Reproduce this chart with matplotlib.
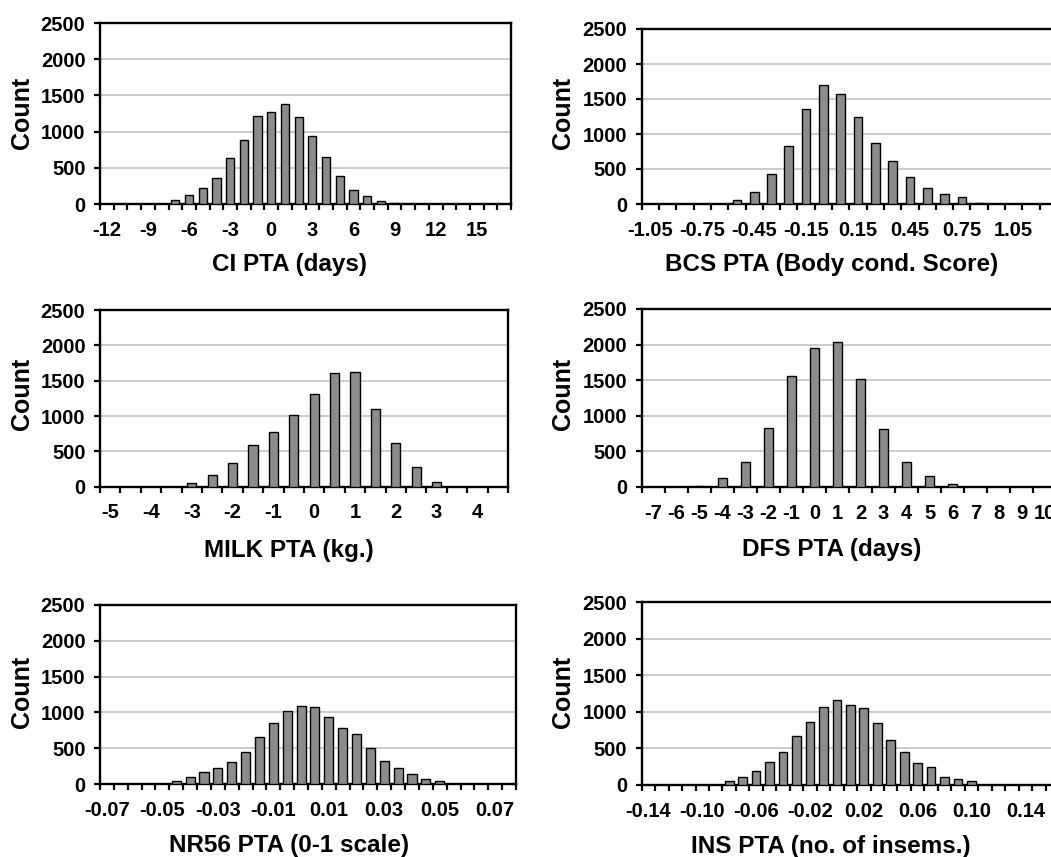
import matplotlib
matplotlib.use('Agg')
import matplotlib.pyplot as plt
import numpy as np

plt.rcParams['font.family'] = ['Liberation Sans', 'DejaVu Sans']
plt.rcParams['font.weight'] = 'bold'

# ---------------- data ----------------
ci_cats = ['-12', '-11', '-10', '-9', '-8', '-7', '-6', '-5', '-4', '-3', '-2', '-1', '0', '1', '2',
           '3', '4', '5', '6', '7', '8', '9', '10', '11', '12', '13', '14', '15', '16', '17']
ci_counts = [0, 0, 0, 0, 0, 50, 125, 215, 355, 640, 885, 1220, 1275, 1375, 1205,
             940, 650, 380, 195, 110, 48, 20, 0, 0, 0, 0, 0, 0, 0, 0]

bcs_cats = ['-1.05', '-0.95', '-0.85', '-0.75', '-0.65', '-0.55', '-0.45', '-0.35', '-0.25', '-0.15',
            '-0.05', '0.05', '0.15', '0.25', '0.35', '0.45', '0.55', '0.65', '0.75', '0.85',
            '0.95', '1.05', '1.15', '1.25']
bcs_counts = [0, 0, 0, 0, 0, 52, 176, 429, 829, 1352, 1705, 1576, 1243, 867, 614, 386, 233, 148,
              100, 19, 0, 0, 0, 0]

milk_cats = ['-5', '-4.5', '-4', '-3.5', '-3', '-2.5', '-2', '-1.5', '-1', '-0.5', '0', '0.5', '1',
             '1.5', '2', '2.5', '3', '3.5', '4', '4.5']
milk_counts = [0, 0, 0, 0, 47, 160, 330, 585, 769, 1014, 1307, 1604, 1618, 1099, 613, 283, 71, 0, 0, 0]

dfs_cats = ['-7', '-6', '-5', '-4', '-3', '-2', '-1', '0', '1', '2', '3', '4', '5', '6', '7', '8', '9', '10']
dfs_counts = [0, 0, 19, 131, 351, 824, 1559, 1957, 2041, 1512, 810, 356, 159, 47, 0, 0, 0, 0]

nr56_cats = ['-0.07', '-0.065', '-0.06', '-0.055', '-0.05', '-0.045', '-0.04', '-0.035', '-0.03', '-0.025',
             '-0.02', '-0.015', '-0.01', '-0.005', '0', '0.005', '0.01', '0.015', '0.02', '0.025',
             '0.03', '0.035', '0.04', '0.045', '0.05', '0.055', '0.06', '0.065', '0.07', '0.075']
nr56_counts = [0, 0, 0, 0, 0, 47, 93, 163, 219, 312, 447, 652, 852, 1015, 1089, 1075, 936, 777, 698, 498,
               317, 219, 144, 74, 47, 0, 0, 0, 0, 0]

ins_cats = ['-0.14', '-0.13', '-0.12', '-0.11', '-0.10', '-0.09', '-0.08', '-0.07', '-0.06', '-0.05',
            '-0.04', '-0.03', '-0.02', '-0.01', '0', '0.01', '0.02', '0.03', '0.04', '0.05', '0.06',
            '0.07', '0.08', '0.09', '0.10', '0.11', '0.12', '0.13', '0.14', '0.15', '0.16']
ins_counts = [0, 0, 0, 0, 0, 0, 55, 109, 192, 319, 456, 666, 862, 1063, 1163, 1095, 1054, 844, 611, 452,
              306, 246, 109, 82, 55, 0, 0, 0, 0, 0, 0]

y_ticks = [0, 500, 1000, 1500, 2000, 2500]

# ---------------- figure ----------------
W, H = 1051, 857
fig = plt.figure(figsize=(W / 100, H / 100), dpi=100)
fig.patch.set_facecolor('white')


def add_panel(cats, counts, step, xlabel, width, box, xl_pos, yl_pos):
    l, t, r, b = box
    ax = fig.add_axes([l / W, 1 - b / H, (r - l) / W, (b - t) / H])
    x = np.arange(len(cats))
    ax.bar(x, counts, width=width, color='#8c8c8c', edgecolor='black', linewidth=1.0, zorder=3)
    ax.set_xlim(-0.5, len(cats) - 0.5)
    ax.set_ylim(0, 2500)
    ax.set_yticks(y_ticks)
    ax.set_yticklabels([str(v) for v in y_ticks])
    ax.yaxis.grid(True, color='#c8c8c8', lw=1.3)
    ax.set_axisbelow(True)
    ax.set_xticks(x[::step])
    ax.set_xticklabels(cats[::step])
    ax.set_xticks(np.arange(len(cats) + 1) - 0.5, minor=True)
    ax.tick_params(axis='x', which='major', length=0, pad=12, labelsize=14.5)
    ax.tick_params(axis='x', which='minor', length=4.5, width=1.6, direction='out')
    ax.tick_params(axis='y', length=4.5, width=1.6, pad=6, labelsize=14.5)
    for s in ax.spines.values():
        s.set_linewidth(1.7)
    ax.set_xlabel(xlabel, fontsize=17.5, fontweight='bold')
    ax.xaxis.set_label_coords(xl_pos[0] / W, 1 - xl_pos[1] / H, transform=fig.transFigure)
    ax.xaxis.label.set_va('baseline')
    ax.set_ylabel('Count', fontsize=18, fontweight='bold')
    ax.yaxis.set_label_coords(yl_pos[0] / W, 1 - yl_pos[1] / H, transform=fig.transFigure)
    ax.yaxis.label.set_va('center')
    return ax


add_panel(ci_cats, ci_counts, 3, 'CI PTA (days)', 0.6,
          (100, 23, 511, 204), (290, 271.5), (22, 113))
add_panel(bcs_cats, bcs_counts, 3, 'BCS PTA (Body cond. Score)', 0.5,
          (641.7, 29, 1057, 204), (831.5, 271.5), (563, 113))
add_panel(milk_cats, milk_counts, 2, 'MILK PTA (kg.)', 0.45,
          (100, 310, 508, 486.7), (289, 556.5), (22, 394))
add_panel(dfs_cats, dfs_counts, 1, 'DFS PTA (days)', 0.38,
          (641.7, 309, 1056.4, 487), (832, 556), (563, 394))
add_panel(nr56_cats, nr56_counts, 4, 'NR56 PTA (0-1 scale)', 0.65,
          (100, 605, 516, 784), (289, 852), (22, 692))
add_panel(ins_cats, ins_counts, 4, 'INS PTA (no. of insems.)', 0.65,
          (641.7, 602.3, 1059, 785), (831, 853), (563, 692))

fig.savefig('out.png', dpi=100, facecolor='white')
